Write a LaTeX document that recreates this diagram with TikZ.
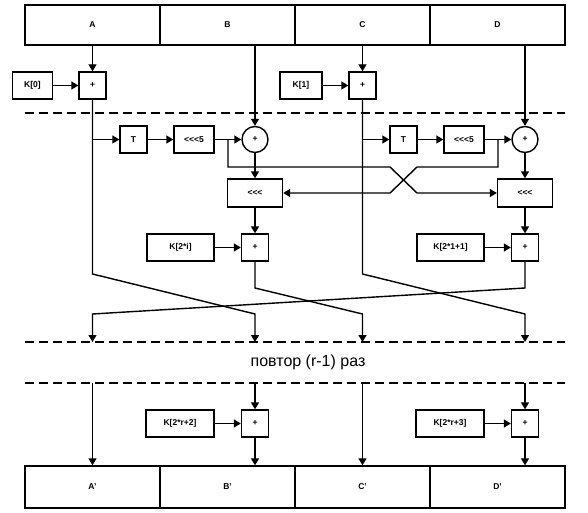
\documentclass[tikz,border=0pt]{standalone}
\usepackage{fontspec}
\setmainfont{Liberation Sans}
\usepackage{tikz}
\usetikzlibrary{arrows.meta, positioning}
\newcommand{\rotsym}{<\kern0pt<\kern0pt<}

\begin{document}
\begin{tikzpicture}[x=1pt, y=-1pt, line width=1.4pt,
    every node/.style={font=\fontsize{8.5}{10}\selectfont\bfseries, inner sep=0pt},
    cell/.style={draw, minimum width=135pt, minimum height=40pt},
    blk/.style={draw, minimum height=27pt},
    xorc/.style={draw, circle, minimum size=26pt},
    arr/.style={-{Triangle[length=7pt, width=8pt]}},
    sep/.style={dash pattern=on 9pt off 5pt}]
  \useasboundingbox (0,0) rectangle (588,513);
  % input and output registers
  \foreach \n/\t [count=\i from 0] in {rA/A, rB/B, rC/C, rD/D} {
    \node[cell] (\n) at (92.5+135*\i, 25) {\t};
  }
  \foreach \n/\t [count=\i from 0] in {oA/A', oB/B', oC/C', oD/D'} {
    \node[cell, minimum height=42pt] (\n) at (92.5+135*\i, 487) {\t};
  }
  \foreach \y in {113, 342, 383} {
    \draw[sep] (25,\y) -- (565,\y);
  }
  \node[font=\fontsize{16}{18}\selectfont] (rep) at (308,362) {повтор (r-1) раз};

  % pre-whitening
  \node[blk, minimum width=40pt] (k0) at (32.5,85.5) {K[0]};
  \node[blk, minimum width=27pt] (addA) at (92.5,85.5) {+};
  \node[blk, minimum width=42pt] (k1) at (301,85.5) {K[1]};
  \node[blk, minimum width=27pt] (addC) at (362.5,85.5) {+};
  \draw[arr] (rA) -- (addA);
  \draw[arr] (k0) -- (addA);
  \draw[arr] (rC) -- (addC);
  \draw[arr] (k1) -- (addC);

  % round
  \node[blk, minimum width=27pt] (tL) at (133.5,139.5) {T};
  \node[blk, minimum width=40pt] (r5L) at (194,139.5) {\rotsym5};
  \node[xorc] (xL) at (255,139.5) {+};
  \node[blk, minimum width=55pt, minimum height=28pt] (rotL) at (255,193) {\rotsym};
  \node[blk, minimum width=67pt] (kL) at (180.5,247.5) {K[2*i]};
  \node[blk, minimum width=27pt] (addB) at (255,247.5) {+};

  \node[blk, minimum width=27pt] (tR) at (403.5,139.5) {T};
  \node[blk, minimum width=40pt] (r5R) at (464,139.5) {\rotsym5};
  \node[xorc] (xR) at (525,139.5) {+};
  \node[blk, minimum width=55pt, minimum height=28pt] (rotR) at (525,193) {\rotsym};
  \node[blk, minimum width=67pt] (kR) at (450.5,247.5) {K[2*1+1]};
  \node[blk, minimum width=27pt] (addD) at (525,247.5) {+};

  \draw[arr] (rB.south -| xL) -- (xL);
  \draw[arr] (addA |- tL) -- (tL);
  \draw[arr] (tL) -- (r5L);
  \draw[arr] (r5L) -- (xL);
  \draw[arr] (xL) -- (rotL);
  \draw[arr] (rotL) -- (addB);
  \draw[arr] (kL) -- (addB);

  \draw[arr] (rD.south -| xR) -- (xR);
  \draw[arr] (addC |- tR) -- (tR);
  \draw[arr] (tR) -- (r5R);
  \draw[arr] (r5R) -- (xR);
  \draw[arr] (xR) -- (rotR);
  \draw[arr] (rotR) -- (addD);
  \draw[arr] (kR) -- (addD);

  % crossing of the rotation amounts
  \coordinate (jL) at (228,139.5);
  \coordinate (jR) at (498,139.5);
  \coordinate (c1) at (390,167);
  \coordinate (c2) at (417,193);
  \coordinate (c3) at (417,167);
  \coordinate (c4) at (390,193);
  \draw[arr] (jL) |- (c1) -- (c2) -- (rotR);
  \draw[arr] (jR) |- (c3) -- (c4) -- (rotL);

  % word permutation
  \coordinate (bA) at (92.5,274);
  \coordinate (bB) at (255,288);
  \coordinate (bC) at (362.5,274);
  \coordinate (bD) at (525,288);
  \foreach \n/\x in {A/92.5, B/255, C/362.5, D/525} {
    \coordinate (d\n) at (\x,314);
    \coordinate (e\n) at (\x,342);
    \coordinate (s\n) at (\x,383);
  }
  \draw[arr] (addA) -- (bA) -- (dB) -- (eB);
  \draw[arr] (addB) -- (bB) -- (dC) -- (eC);
  \draw[arr] (addC) -- (bC) -- (dD) -- (eD);
  \draw[arr] (addD) -- (bD) -- (dA) -- (eA);

  % post-whitening
  \node[blk, minimum width=68pt] (kB2) at (180,423.5) {K[2*r+2]};
  \node[blk, minimum width=27pt] (addB2) at (255,423.5) {+};
  \node[blk, minimum width=68pt] (kD2) at (450,423.5) {K[2*r+3]};
  \node[blk, minimum width=27pt] (addD2) at (525,423.5) {+};
  \draw[arr] (sA) -- (oA);
  \draw[arr] (sB) -- (addB2);
  \draw[arr] (kB2) -- (addB2);
  \draw[arr] (addB2) -- (oB.north -| addB2);
  \draw[arr] (sC) -- (oC);
  \draw[arr] (sD) -- (addD2);
  \draw[arr] (kD2) -- (addD2);
  \draw[arr] (addD2) -- (oD.north -| addD2);
\end{tikzpicture}
\end{document}
